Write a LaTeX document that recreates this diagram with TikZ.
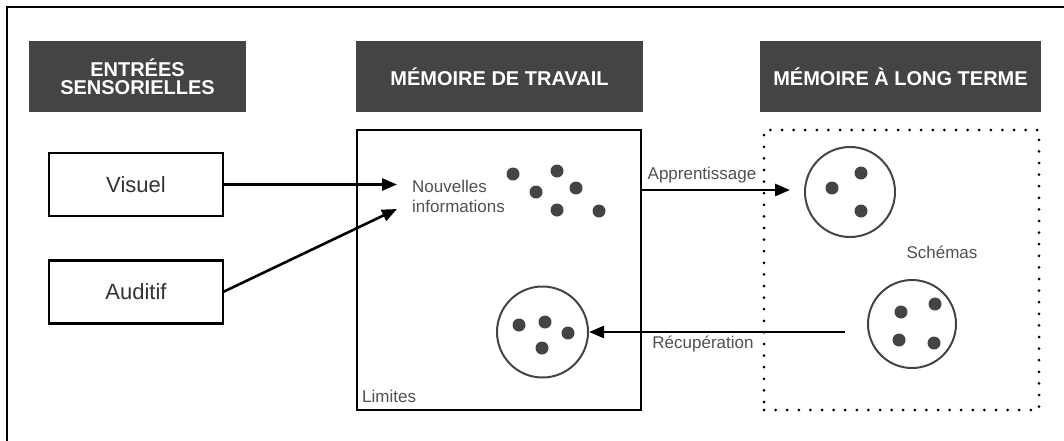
\documentclass[tikz,border=0pt]{standalone}
\usepackage{fontspec}
\setmainfont{Liberation Sans}
\usetikzlibrary{arrows.meta}
\definecolor{hdr}{HTML}{444444}
\definecolor{txt}{HTML}{333333}
\definecolor{lbltxt}{HTML}{505050}
\begin{document}
\begin{tikzpicture}[x=1pt,y=-1pt,
  header/.style={fill=hdr, text=white, font=\bfseries\fontsize{20}{18}\selectfont, align=center, inner sep=0pt, outer sep=0pt, minimum height=71pt},
  inbox/.style={draw, line width=2.6pt, minimum width=174pt, minimum height=63pt, inner sep=0pt, outer sep=0pt, font=\fontsize{22}{24}\selectfont, text=txt},
  lbl/.style={font=\fontsize{17}{20}\selectfont, text=lbltxt, inner sep=0pt},
  arr/.style={line width=2.6pt, -{Triangle[length=15pt,width=12pt]}},
  dot/.style={circle, fill=hdr, minimum size=13pt, inner sep=0pt},
  schema/.style={circle, draw=hdr, line width=2pt, inner sep=0pt}]
\useasboundingbox (0,0) rectangle (1064,440);
\begin{scope}
\clip (0,0) rectangle (1064,440);
\draw[line width=2pt] (7,470) -- (7,7) -- (1090,7);
\end{scope}
% headers
\node[header, minimum width=217pt] (h1) at (137.5,76.5) {ENTRÉES\\SENSORIELLES};
\node[header, minimum width=287pt] (h2) at (499.5,76.5) {MÉMOIRE DE TRAVAIL};
\node[header, minimum width=281pt] (h3) at (900.5,76.5) {MÉMOIRE À LONG TERME};
% sensory inputs
\node[inbox] (vis) at (136,184.5) {Visuel};
\node[inbox] (aud) at (136,292) {Auditif};
% working memory
\node[draw, line width=2.6pt, minimum width=284pt, minimum height=280pt, inner sep=0pt, outer sep=0pt] (wm) at (499,270) {};
% long term memory
\node[draw, line width=3pt, line cap=round, dash pattern=on 0pt off 11.6pt, minimum width=275pt, minimum height=280pt, inner sep=0pt, outer sep=0pt] (ltm) at (901.5,270) {};
% new information
\node[lbl, align=left, anchor=west] (nouv) at (412,196) {Nouvelles\\informations};
\node[dot] (n1) at (513,174) {};
\node[dot] (n2) at (557,171) {};
\node[dot] (n3) at (536,192) {};
\node[dot] (n4) at (576,188) {};
\node[dot] (n5) at (557,210) {};
\node[dot] (n6) at (599,211) {};
% working memory schema
\node[schema, minimum size=91pt] (wmc) at (542.5,332) {};
\node[dot] (w1) at (519,325) {};
\node[dot] (w2) at (545,322) {};
\node[dot] (w3) at (568,333) {};
\node[dot] (w4) at (542,348) {};
% long term schemas
\node[schema, minimum size=90pt] (s1) at (850,192) {};
\node[dot] (s1a) at (832,188) {};
\node[dot] (s1b) at (861,173) {};
\node[dot] (s1c) at (861,211) {};
\node[schema, minimum size=88pt] (s2) at (912,324) {};
\node[dot] (s2a) at (901,312) {};
\node[dot] (s2b) at (935,304) {};
\node[dot] (s2c) at (899,340) {};
\node[dot] (s2d) at (934,343) {};
% labels
\node[lbl] (schlbl) at (942,252) {Schémas};
\node[lbl, anchor=west] (lim) at (362,396) {Limites};
\node[lbl] (app) at (702,175) {Apprentissage};
\node[lbl] (rec) at (703,344) {Récupération};
% connectors
\coordinate (vEnd) at (397,184.5);
\coordinate (aEnd) at (397,209);
\coordinate (lEnd) at (790,190);
\coordinate (rStart) at (845,332);
\draw[arr] (vis.east) -- (vEnd);
\draw[arr] (aud.east) -- (aEnd);
\draw[arr] (wm.east |- lEnd) -- (lEnd);
\draw[arr] (rStart) -- (wmc.east);
\end{tikzpicture}
\end{document}
